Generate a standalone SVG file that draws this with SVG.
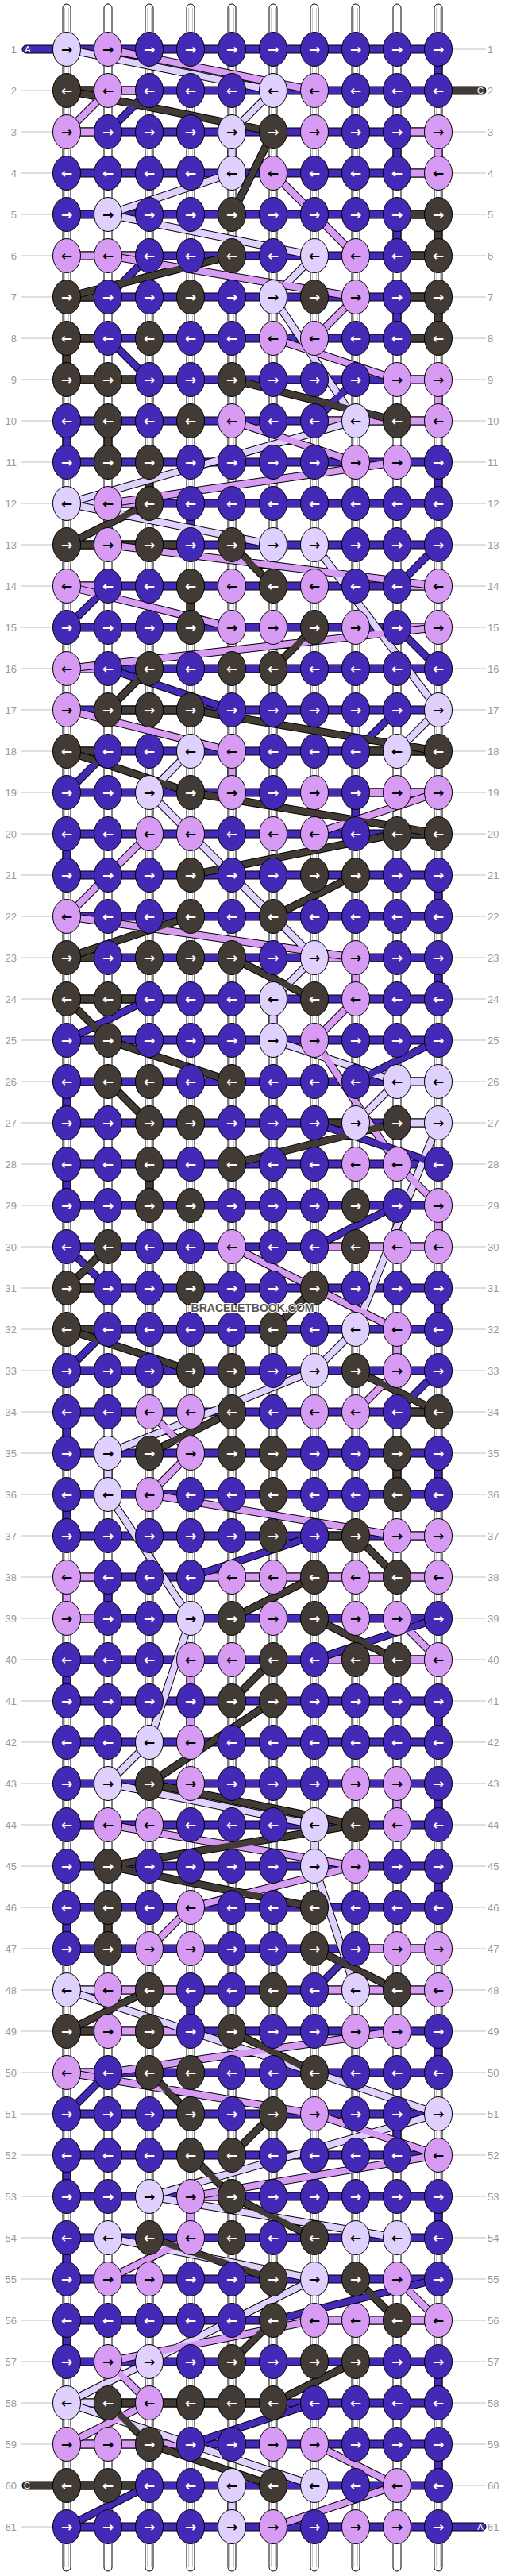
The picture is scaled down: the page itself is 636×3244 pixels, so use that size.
<svg xmlns="http://www.w3.org/2000/svg" width="636" height="3244" viewBox="0 0 636 3244">
<style>
.P{fill:#4329b5}.D{fill:#423a34}.L{fill:#dfd0fd}.K{fill:#d89bf3}
ellipse{stroke:#000;stroke-width:1}
.s{stroke:#000;stroke-width:1}
.a{font-family:"DejaVu Sans",sans-serif;font-weight:bold;font-size:17px;text-anchor:middle}
.w{fill:#fff}.k{fill:#000}
.str{fill:#fff;stroke:#000;stroke-width:1}
.si{fill:none;stroke:#c8c8c8;stroke-width:1}
.o{fill:none;stroke:#000;stroke-width:10}
.dP{fill:none;stroke:#4329b5;stroke-width:8}
.dD{fill:none;stroke:#423a34;stroke-width:8}
.dL{fill:none;stroke:#dfd0fd;stroke-width:8}
.dK{fill:none;stroke:#d89bf3;stroke-width:8}
.lb text{font-family:"Liberation Sans",Arial,sans-serif;font-size:13px;fill:#999}
.le{text-anchor:end}
.pl{font-family:"Liberation Sans",Arial,sans-serif;font-size:11px;fill:#fff;text-anchor:middle}
.wm{font-family:"Liberation Sans",Arial,sans-serif;font-weight:bold;font-size:15px;fill:#555;stroke:#fff;stroke-width:2;paint-order:stroke;text-anchor:middle}
</style>
<defs>
<pattern id="band" patternUnits="userSpaceOnUse" x="0" y="56.5" width="636" height="52"><rect x="-2" y="0.5" width="640" height="10" fill="#4329b5" stroke="#000"/></pattern>
<pattern id="hl" patternUnits="userSpaceOnUse" x="0" y="57" width="636" height="52"><rect x="0" y="4.5" width="636" height="1" fill="#c0c0c0"/></pattern>
<g id="Pr"><ellipse rx="17.5" ry="21.5" class="P"/><text class="a w" y="6">→</text></g>
<g id="Pl"><ellipse rx="17.5" ry="21.5" class="P"/><text class="a w" y="6">←</text></g>
<g id="Dr"><ellipse rx="17.5" ry="21.5" class="D"/><text class="a w" y="6">→</text></g>
<g id="Dl"><ellipse rx="17.5" ry="21.5" class="D"/><text class="a w" y="6">←</text></g>
<g id="Lr"><ellipse rx="17.5" ry="21.5" class="L"/><text class="a k" y="6">→</text></g>
<g id="Ll"><ellipse rx="17.5" ry="21.5" class="L"/><text class="a k" y="6">←</text></g>
<g id="Kr"><ellipse rx="17.5" ry="21.5" class="K"/><text class="a k" y="6">→</text></g>
<g id="Kl"><ellipse rx="17.5" ry="21.5" class="K"/><text class="a k" y="6">←</text></g>
</defs>
<rect width="636" height="3244" fill="#fff"/>
<g id="labels" class="lb">
<rect x="26" y="57" width="586" height="3130" fill="url(#hl)"/>
<text class="le" x="21" y="66.5">1</text><text x="614" y="66.5">1</text>
<text class="le" x="21" y="118.5">2</text><text x="614" y="118.5">2</text>
<text class="le" x="21" y="170.5">3</text><text x="614" y="170.5">3</text>
<text class="le" x="21" y="222.5">4</text><text x="614" y="222.5">4</text>
<text class="le" x="21" y="274.5">5</text><text x="614" y="274.5">5</text>
<text class="le" x="21" y="326.5">6</text><text x="614" y="326.5">6</text>
<text class="le" x="21" y="378.5">7</text><text x="614" y="378.5">7</text>
<text class="le" x="21" y="430.5">8</text><text x="614" y="430.5">8</text>
<text class="le" x="21" y="482.5">9</text><text x="614" y="482.5">9</text>
<text class="le" x="21" y="534.5">10</text><text x="614" y="534.5">10</text>
<text class="le" x="21" y="586.5">11</text><text x="614" y="586.5">11</text>
<text class="le" x="21" y="638.5">12</text><text x="614" y="638.5">12</text>
<text class="le" x="21" y="690.5">13</text><text x="614" y="690.5">13</text>
<text class="le" x="21" y="742.5">14</text><text x="614" y="742.5">14</text>
<text class="le" x="21" y="794.5">15</text><text x="614" y="794.5">15</text>
<text class="le" x="21" y="846.5">16</text><text x="614" y="846.5">16</text>
<text class="le" x="21" y="898.5">17</text><text x="614" y="898.5">17</text>
<text class="le" x="21" y="950.5">18</text><text x="614" y="950.5">18</text>
<text class="le" x="21" y="1002.5">19</text><text x="614" y="1002.5">19</text>
<text class="le" x="21" y="1054.5">20</text><text x="614" y="1054.5">20</text>
<text class="le" x="21" y="1106.5">21</text><text x="614" y="1106.5">21</text>
<text class="le" x="21" y="1158.5">22</text><text x="614" y="1158.5">22</text>
<text class="le" x="21" y="1210.5">23</text><text x="614" y="1210.5">23</text>
<text class="le" x="21" y="1262.5">24</text><text x="614" y="1262.5">24</text>
<text class="le" x="21" y="1314.5">25</text><text x="614" y="1314.5">25</text>
<text class="le" x="21" y="1366.5">26</text><text x="614" y="1366.5">26</text>
<text class="le" x="21" y="1418.5">27</text><text x="614" y="1418.5">27</text>
<text class="le" x="21" y="1470.5">28</text><text x="614" y="1470.5">28</text>
<text class="le" x="21" y="1522.5">29</text><text x="614" y="1522.5">29</text>
<text class="le" x="21" y="1574.5">30</text><text x="614" y="1574.5">30</text>
<text class="le" x="21" y="1626.5">31</text><text x="614" y="1626.5">31</text>
<text class="le" x="21" y="1678.5">32</text><text x="614" y="1678.5">32</text>
<text class="le" x="21" y="1730.5">33</text><text x="614" y="1730.5">33</text>
<text class="le" x="21" y="1782.5">34</text><text x="614" y="1782.5">34</text>
<text class="le" x="21" y="1834.5">35</text><text x="614" y="1834.5">35</text>
<text class="le" x="21" y="1886.5">36</text><text x="614" y="1886.5">36</text>
<text class="le" x="21" y="1938.5">37</text><text x="614" y="1938.5">37</text>
<text class="le" x="21" y="1990.5">38</text><text x="614" y="1990.5">38</text>
<text class="le" x="21" y="2042.5">39</text><text x="614" y="2042.5">39</text>
<text class="le" x="21" y="2094.5">40</text><text x="614" y="2094.5">40</text>
<text class="le" x="21" y="2146.5">41</text><text x="614" y="2146.5">41</text>
<text class="le" x="21" y="2198.5">42</text><text x="614" y="2198.5">42</text>
<text class="le" x="21" y="2250.5">43</text><text x="614" y="2250.5">43</text>
<text class="le" x="21" y="2302.5">44</text><text x="614" y="2302.5">44</text>
<text class="le" x="21" y="2354.5">45</text><text x="614" y="2354.5">45</text>
<text class="le" x="21" y="2406.5">46</text><text x="614" y="2406.5">46</text>
<text class="le" x="21" y="2458.5">47</text><text x="614" y="2458.5">47</text>
<text class="le" x="21" y="2510.5">48</text><text x="614" y="2510.5">48</text>
<text class="le" x="21" y="2562.5">49</text><text x="614" y="2562.5">49</text>
<text class="le" x="21" y="2614.5">50</text><text x="614" y="2614.5">50</text>
<text class="le" x="21" y="2666.5">51</text><text x="614" y="2666.5">51</text>
<text class="le" x="21" y="2718.5">52</text><text x="614" y="2718.5">52</text>
<text class="le" x="21" y="2770.5">53</text><text x="614" y="2770.5">53</text>
<text class="le" x="21" y="2822.5">54</text><text x="614" y="2822.5">54</text>
<text class="le" x="21" y="2874.5">55</text><text x="614" y="2874.5">55</text>
<text class="le" x="21" y="2926.5">56</text><text x="614" y="2926.5">56</text>
<text class="le" x="21" y="2978.5">57</text><text x="614" y="2978.5">57</text>
<text class="le" x="21" y="3030.5">58</text><text x="614" y="3030.5">58</text>
<text class="le" x="21" y="3082.5">59</text><text x="614" y="3082.5">59</text>
<text class="le" x="21" y="3134.5">60</text><text x="614" y="3134.5">60</text>
<text class="le" x="21" y="3186.5">61</text><text x="614" y="3186.5">61</text>
</g>
<g id="connectors">
<g id="strands">
<rect class="str" x="79" y="5" width="10" height="3233" rx="5"/><rect class="str" x="131" y="5" width="10" height="3233" rx="5"/><rect class="str" x="183" y="5" width="10" height="3233" rx="5"/><rect class="str" x="235" y="5" width="10" height="3233" rx="5"/><rect class="str" x="287" y="5" width="10" height="3233" rx="5"/><rect class="str" x="339" y="5" width="10" height="3233" rx="5"/><rect class="str" x="391" y="5" width="10" height="3233" rx="5"/><rect class="str" x="443" y="5" width="10" height="3233" rx="5"/><rect class="str" x="495" y="5" width="10" height="3233" rx="5"/><rect class="str" x="547" y="5" width="10" height="3233" rx="5"/>
<path class="si" d="M81.5 10V3233M86.5 10V3233M133.5 10V3233M138.5 10V3233M185.5 10V3233M190.5 10V3233M237.5 10V3233M242.5 10V3233M289.5 10V3233M294.5 10V3233M341.5 10V3233M346.5 10V3233M393.5 10V3233M398.5 10V3233M445.5 10V3233M450.5 10V3233M497.5 10V3233M502.5 10V3233M549.5 10V3233M554.5 10V3233"/>
</g>
<g id="ends">
<rect class="P s" x="28" y="57" width="62" height="10" rx="5"/><text class="pl" x="35" y="66">A</text>
<rect class="D s" x="546" y="109" width="66" height="10" rx="5"/><text class="pl" x="605" y="118">C</text>
<rect class="D s" x="28" y="3125" width="62" height="10" rx="5"/><text class="pl" x="34" y="3134">C</text>
<rect class="P s" x="546" y="3177" width="66" height="10" rx="5"/><text class="pl" x="605" y="3186">A</text>
</g>
<rect id="rowbands" x="84" y="56" width="468" height="3132" fill="url(#band)"/>
<g id="bandsegs" class="s">
<rect class="D" x="84" y="109" width="52" height="10"/><rect class="K" x="136" y="109" width="52" height="10"/>
<rect class="K" x="84" y="161" width="52" height="10"/><rect class="K" x="500" y="161" width="52" height="10"/>
<rect class="K" x="500" y="213" width="52" height="10"/>
<rect class="D" x="500" y="265" width="52" height="10"/>
<rect class="K" x="84" y="317" width="52" height="10"/><rect class="K" x="136" y="317" width="52" height="10"/><rect class="D" x="500" y="317" width="52" height="10"/>
<rect class="D" x="84" y="369" width="52" height="10"/><rect class="D" x="500" y="369" width="52" height="10"/>
<rect class="D" x="84" y="421" width="52" height="10"/><rect class="D" x="500" y="421" width="52" height="10"/>
<rect class="D" x="84" y="473" width="52" height="10"/><rect class="D" x="136" y="473" width="52" height="10"/><rect class="K" x="500" y="473" width="52" height="10"/>
<rect class="K" x="396" y="525" width="52" height="10"/><rect class="K" x="448" y="525" width="52" height="10"/><rect class="K" x="500" y="525" width="52" height="10"/>
<rect class="L" x="84" y="629" width="52" height="10"/><rect class="K" x="136" y="629" width="52" height="10"/>
<rect class="D" x="84" y="681" width="52" height="10"/><rect class="D" x="136" y="681" width="52" height="10"/><rect class="D" x="188" y="681" width="52" height="10"/>
<rect class="K" x="84" y="733" width="52" height="10"/><rect class="K" x="500" y="733" width="52" height="10"/>
<rect class="K" x="500" y="785" width="52" height="10"/>
<rect class="K" x="84" y="837" width="52" height="10"/>
<rect class="D" x="136" y="889" width="52" height="10"/><rect class="D" x="188" y="889" width="52" height="10"/>
<rect class="D" x="84" y="941" width="52" height="10"/><rect class="D" x="448" y="941" width="52" height="10"/><rect class="D" x="500" y="941" width="52" height="10"/>
<rect class="K" x="448" y="993" width="52" height="10"/><rect class="K" x="500" y="993" width="52" height="10"/>
<rect class="D" x="500" y="1045" width="52" height="10"/>
<rect class="D" x="84" y="1201" width="52" height="10"/><rect class="K" x="396" y="1201" width="52" height="10"/>
<rect class="D" x="84" y="1253" width="52" height="10"/><rect class="D" x="136" y="1253" width="52" height="10"/>
<rect class="L" x="500" y="1357" width="52" height="10"/>
<rect class="D" x="396" y="1409" width="52" height="10"/><rect class="L" x="500" y="1409" width="52" height="10"/>
<rect class="K" x="396" y="1565" width="52" height="10"/><rect class="K" x="448" y="1565" width="52" height="10"/><rect class="K" x="500" y="1565" width="52" height="10"/>
<rect class="D" x="84" y="1617" width="52" height="10"/>
<rect class="D" x="84" y="1669" width="52" height="10"/>
<rect class="D" x="500" y="1773" width="52" height="10"/>
<rect class="D" x="396" y="1929" width="52" height="10"/><rect class="K" x="500" y="1929" width="52" height="10"/>
<rect class="K" x="84" y="1981" width="52" height="10"/><rect class="K" x="240" y="1981" width="52" height="10"/><rect class="K" x="292" y="1981" width="52" height="10"/><rect class="K" x="344" y="1981" width="52" height="10"/><rect class="K" x="396" y="1981" width="52" height="10"/><rect class="K" x="448" y="1981" width="52" height="10"/><rect class="K" x="500" y="1981" width="52" height="10"/>
<rect class="K" x="84" y="2033" width="52" height="10"/>
<rect class="K" x="396" y="2085" width="52" height="10"/><rect class="K" x="448" y="2085" width="52" height="10"/><rect class="K" x="500" y="2085" width="52" height="10"/>
<rect class="K" x="448" y="2449" width="52" height="10"/><rect class="K" x="500" y="2449" width="52" height="10"/>
<rect class="L" x="84" y="2501" width="52" height="10"/><rect class="K" x="136" y="2501" width="52" height="10"/><rect class="K" x="188" y="2501" width="52" height="10"/><rect class="K" x="396" y="2501" width="52" height="10"/><rect class="K" x="448" y="2501" width="52" height="10"/><rect class="K" x="500" y="2501" width="52" height="10"/>
<rect class="D" x="84" y="2553" width="52" height="10"/><rect class="K" x="136" y="2553" width="52" height="10"/><rect class="K" x="188" y="2553" width="52" height="10"/>
<rect class="K" x="84" y="2605" width="52" height="10"/>
<rect class="K" x="240" y="2761" width="52" height="10"/>
<rect class="K" x="344" y="2917" width="52" height="10"/><rect class="K" x="396" y="2917" width="52" height="10"/><rect class="K" x="448" y="2917" width="52" height="10"/><rect class="K" x="500" y="2917" width="52" height="10"/>
<rect class="L" x="84" y="3021" width="52" height="10"/><rect class="D" x="136" y="3021" width="52" height="10"/><rect class="D" x="188" y="3021" width="52" height="10"/><rect class="D" x="240" y="3021" width="52" height="10"/><rect class="D" x="292" y="3021" width="52" height="10"/>
<rect class="K" x="84" y="3073" width="52" height="10"/><rect class="K" x="136" y="3073" width="52" height="10"/><rect class="K" x="188" y="3073" width="52" height="10"/>
<rect class="D" x="84" y="3125" width="52" height="10"/><rect class="D" x="136" y="3125" width="52" height="10"/>
</g>
<g id="vsegs" class="s">
<rect class="P" x="547" y="79" width="10" height="18"/>
<rect class="L" x="287" y="183" width="10" height="18"/><rect class="P" x="495" y="183" width="10" height="18"/><rect class="K" x="547" y="183" width="10" height="18"/>
<rect class="P" x="495" y="287" width="10" height="18"/><rect class="D" x="547" y="287" width="10" height="18"/>
<rect class="P" x="495" y="391" width="10" height="18"/><rect class="D" x="547" y="391" width="10" height="18"/>
<rect class="D" x="79" y="443" width="10" height="18"/>
<rect class="K" x="547" y="495" width="10" height="18"/>
<rect class="P" x="79" y="547" width="10" height="18"/><rect class="D" x="131" y="547" width="10" height="18"/>
<rect class="D" x="183" y="599" width="10" height="18"/><rect class="P" x="547" y="599" width="10" height="18"/>
<rect class="K" x="131" y="651" width="10" height="18"/><rect class="P" x="235" y="651" width="10" height="18"/>
<rect class="D" x="235" y="755" width="10" height="18"/>
<rect class="K" x="287" y="963" width="10" height="18"/>
<rect class="P" x="443" y="1015" width="10" height="18"/>
<rect class="P" x="79" y="1067" width="10" height="18"/>
<rect class="P" x="547" y="1119" width="10" height="18"/>
<rect class="K" x="443" y="1223" width="10" height="18"/><rect class="P" x="547" y="1223" width="10" height="18"/>
<rect class="L" x="339" y="1275" width="10" height="18"/>
<rect class="P" x="79" y="1379" width="10" height="18"/>
<rect class="P" x="79" y="1483" width="10" height="18"/><rect class="D" x="183" y="1483" width="10" height="18"/>
<rect class="K" x="547" y="1535" width="10" height="18"/>
<rect class="P" x="547" y="1639" width="10" height="18"/>
<rect class="K" x="495" y="1691" width="10" height="18"/>
<rect class="P" x="79" y="1795" width="10" height="18"/>
<rect class="L" x="131" y="1847" width="10" height="18"/><rect class="D" x="495" y="1847" width="10" height="18"/><rect class="P" x="547" y="1847" width="10" height="18"/>
<rect class="P" x="79" y="1899" width="10" height="18"/>
<rect class="K" x="79" y="2003" width="10" height="18"/><rect class="P" x="131" y="2003" width="10" height="18"/>
<rect class="P" x="79" y="2107" width="10" height="18"/><rect class="K" x="235" y="2107" width="10" height="18"/>
<rect class="K" x="235" y="2159" width="10" height="18"/><rect class="P" x="547" y="2159" width="10" height="18"/>
<rect class="K" x="495" y="2263" width="10" height="18"/><rect class="P" x="547" y="2263" width="10" height="18"/>
<rect class="L" x="391" y="2315" width="10" height="18"/>
<rect class="P" x="547" y="2367" width="10" height="18"/>
<rect class="P" x="79" y="2419" width="10" height="18"/><rect class="D" x="131" y="2419" width="10" height="18"/>
<rect class="K" x="131" y="2523" width="10" height="18"/><rect class="P" x="235" y="2523" width="10" height="18"/>
<rect class="P" x="547" y="2575" width="10" height="18"/>
<rect class="P" x="495" y="2679" width="10" height="18"/>
<rect class="P" x="79" y="2731" width="10" height="18"/>
<rect class="K" x="235" y="2783" width="10" height="18"/><rect class="P" x="547" y="2783" width="10" height="18"/>
<rect class="P" x="79" y="2835" width="10" height="18"/>
<rect class="P" x="79" y="2939" width="10" height="18"/>
<rect class="P" x="547" y="2991" width="10" height="18"/>
<rect class="P" x="547" y="3095" width="10" height="18"/>
<rect class="L" x="287" y="3147" width="10" height="18"/>
</g>
<g id="diagonals">
<path class="o" d="M84 62L344 114M344 114L292 166M292 218L136 270M136 270L396 322M396 322L344 374M344 374L448 530M448 530L84 634M84 634L344 686M396 686L552 894M552 894L500 946M240 946L188 998M188 998L396 1206M396 1206L344 1258M344 1310L500 1362M500 1362L448 1414M552 1414L448 1674M448 1674L396 1726M396 1726L136 1830M136 1882L240 2038M240 2038L188 2194M188 2194L136 2246M136 2246L396 2298M396 2350L448 2506M84 2506L552 2662M552 2662L188 2766M188 2766L500 2818M136 2818L396 2870M396 2870L292 2922M292 2922L188 2974M188 2974L84 3026M84 3026L396 3130
M136 62L396 114M136 114L84 166M344 218L448 322M136 322L448 374M448 374L396 426M344 426L500 478M292 530L448 582M500 582L136 634M136 686L552 738M84 738L292 790M552 790L84 842M84 894L292 946M552 998L396 1050M188 1050L84 1154M84 1154L448 1206M448 1258L396 1310M396 1310L500 1466M500 1466L552 1518M292 1570L500 1674M500 1726L448 1778M188 1778L240 1830M240 1830L188 1882M188 1882L500 1934M500 2038L552 2090M136 2298L448 2350M448 2350L240 2402M240 2402L188 2454M500 2558L136 2610M84 2610L396 2662M396 2662L552 2714M552 2714L240 2766M240 2818L136 2870M500 2870L552 2922M396 2922L136 2974M136 2974L188 3026M188 3026L84 3078M396 3078L500 3130M500 3130L344 3182
M188 114L136 166M188 322L136 374M136 426L188 478M448 478L396 530M552 686L500 738M136 738L84 790M500 790L552 842M136 842L292 894M500 894L448 946M136 946L84 998M188 1258L84 1310M552 1310L448 1362M396 1414L552 1466M500 1518L396 1570M84 1570L136 1622M136 1674L84 1726M552 1726L500 1778M396 1934L240 1986M552 2038L396 2090M448 2454L396 2506M136 2610L84 2662M552 2870L344 2922M396 3026L240 3078M188 3130L84 3182
M84 114L344 166M344 166L292 270M292 322L84 374M292 478L500 530M188 634L84 686M292 686L344 738M396 790L344 842M188 842L136 894M240 894L552 946M84 946L240 998M240 998L552 1050M500 1050L240 1102M448 1102L344 1154M240 1154L84 1206M292 1206L396 1258M84 1258L136 1310M136 1310L292 1362M136 1362L188 1414M500 1414L292 1466M136 1570L84 1622M396 1622L344 1674M84 1674L240 1726M448 1726L552 1778M292 1778L188 1830M448 1934L500 1986M396 1986L292 2038M396 2038L500 2090M344 2090L292 2142M344 2142L188 2246M188 2246L448 2298M448 2298L136 2350M136 2350L396 2402M396 2454L500 2506M188 2506L84 2558M292 2558L396 2610M188 2610L240 2662M344 2662L292 2714M240 2714L292 2766M292 2766L396 2818M188 2818L344 2870M448 2870L500 2922M344 2922L292 2974M448 2974L344 3026M136 3026L188 3078M188 3078L344 3130"/>
<path class="dL" d="M84 62L344 114M344 114L292 166M292 218L136 270M136 270L396 322M396 322L344 374M344 374L448 530M448 530L84 634M84 634L344 686M396 686L552 894M552 894L500 946M240 946L188 998M188 998L396 1206M396 1206L344 1258M344 1310L500 1362M500 1362L448 1414M552 1414L448 1674M448 1674L396 1726M396 1726L136 1830M136 1882L240 2038M240 2038L188 2194M188 2194L136 2246M136 2246L396 2298M396 2350L448 2506M84 2506L552 2662M552 2662L188 2766M188 2766L500 2818M136 2818L396 2870M396 2870L292 2922M292 2922L188 2974M188 2974L84 3026M84 3026L396 3130"/>
<path class="dK" d="M136 62L396 114M136 114L84 166M344 218L448 322M136 322L448 374M448 374L396 426M344 426L500 478M292 530L448 582M500 582L136 634M136 686L552 738M84 738L292 790M552 790L84 842M84 894L292 946M552 998L396 1050M188 1050L84 1154M84 1154L448 1206M448 1258L396 1310M396 1310L500 1466M500 1466L552 1518M292 1570L500 1674M500 1726L448 1778M188 1778L240 1830M240 1830L188 1882M188 1882L500 1934M500 2038L552 2090M136 2298L448 2350M448 2350L240 2402M240 2402L188 2454M500 2558L136 2610M84 2610L396 2662M396 2662L552 2714M552 2714L240 2766M240 2818L136 2870M500 2870L552 2922M396 2922L136 2974M136 2974L188 3026M188 3026L84 3078M396 3078L500 3130M500 3130L344 3182"/>
<path class="dP" d="M188 114L136 166M188 322L136 374M136 426L188 478M448 478L396 530M552 686L500 738M136 738L84 790M500 790L552 842M136 842L292 894M500 894L448 946M136 946L84 998M188 1258L84 1310M552 1310L448 1362M396 1414L552 1466M500 1518L396 1570M84 1570L136 1622M136 1674L84 1726M552 1726L500 1778M396 1934L240 1986M552 2038L396 2090M448 2454L396 2506M136 2610L84 2662M552 2870L344 2922M396 3026L240 3078M188 3130L84 3182"/>
<path class="dD" d="M84 114L344 166M344 166L292 270M292 322L84 374M292 478L500 530M188 634L84 686M292 686L344 738M396 790L344 842M188 842L136 894M240 894L552 946M84 946L240 998M240 998L552 1050M500 1050L240 1102M448 1102L344 1154M240 1154L84 1206M292 1206L396 1258M84 1258L136 1310M136 1310L292 1362M136 1362L188 1414M500 1414L292 1466M136 1570L84 1622M396 1622L344 1674M84 1674L240 1726M448 1726L552 1778M292 1778L188 1830M448 1934L500 1986M396 1986L292 2038M396 2038L500 2090M344 2090L292 2142M344 2142L188 2246M188 2246L448 2298M448 2298L136 2350M136 2350L396 2402M396 2454L500 2506M188 2506L84 2558M292 2558L396 2610M188 2610L240 2662M344 2662L292 2714M240 2714L292 2766M292 2766L396 2818M188 2818L344 2870M448 2870L500 2922M344 2922L292 2974M448 2974L344 3026M136 3026L188 3078M188 3078L344 3130"/>
</g>
</g>
<g id="nodes">
<g id="row1" transform="translate(0,62)"><use id="n1_1" href="#Lr" x="84"/><use id="n1_2" href="#Kr" x="136"/><use id="n1_3" href="#Pr" x="188"/><use id="n1_4" href="#Pr" x="240"/><use id="n1_5" href="#Pr" x="292"/><use id="n1_6" href="#Pr" x="344"/><use id="n1_7" href="#Pr" x="396"/><use id="n1_8" href="#Pr" x="448"/><use id="n1_9" href="#Pr" x="500"/><use id="n1_10" href="#Pr" x="552"/></g>
<g id="row2" transform="translate(0,114)"><use id="n2_1" href="#Dl" x="84"/><use id="n2_2" href="#Kl" x="136"/><use id="n2_3" href="#Pl" x="188"/><use id="n2_4" href="#Pl" x="240"/><use id="n2_5" href="#Pl" x="292"/><use id="n2_6" href="#Ll" x="344"/><use id="n2_7" href="#Kl" x="396"/><use id="n2_8" href="#Pl" x="448"/><use id="n2_9" href="#Pl" x="500"/><use id="n2_10" href="#Pl" x="552"/></g>
<g id="row3" transform="translate(0,166)"><use id="n3_1" href="#Kr" x="84"/><use id="n3_2" href="#Pr" x="136"/><use id="n3_3" href="#Pr" x="188"/><use id="n3_4" href="#Pr" x="240"/><use id="n3_5" href="#Lr" x="292"/><use id="n3_6" href="#Dr" x="344"/><use id="n3_7" href="#Kr" x="396"/><use id="n3_8" href="#Pr" x="448"/><use id="n3_9" href="#Pr" x="500"/><use id="n3_10" href="#Kr" x="552"/></g>
<g id="row4" transform="translate(0,218)"><use id="n4_1" href="#Pl" x="84"/><use id="n4_2" href="#Pl" x="136"/><use id="n4_3" href="#Pl" x="188"/><use id="n4_4" href="#Pl" x="240"/><use id="n4_5" href="#Ll" x="292"/><use id="n4_6" href="#Kl" x="344"/><use id="n4_7" href="#Pl" x="396"/><use id="n4_8" href="#Pl" x="448"/><use id="n4_9" href="#Pl" x="500"/><use id="n4_10" href="#Kl" x="552"/></g>
<g id="row5" transform="translate(0,270)"><use id="n5_1" href="#Pr" x="84"/><use id="n5_2" href="#Lr" x="136"/><use id="n5_3" href="#Pr" x="188"/><use id="n5_4" href="#Pr" x="240"/><use id="n5_5" href="#Dr" x="292"/><use id="n5_6" href="#Pr" x="344"/><use id="n5_7" href="#Pr" x="396"/><use id="n5_8" href="#Pr" x="448"/><use id="n5_9" href="#Pr" x="500"/><use id="n5_10" href="#Dr" x="552"/></g>
<g id="row6" transform="translate(0,322)"><use id="n6_1" href="#Kl" x="84"/><use id="n6_2" href="#Kl" x="136"/><use id="n6_3" href="#Pl" x="188"/><use id="n6_4" href="#Pl" x="240"/><use id="n6_5" href="#Dl" x="292"/><use id="n6_6" href="#Pl" x="344"/><use id="n6_7" href="#Ll" x="396"/><use id="n6_8" href="#Kl" x="448"/><use id="n6_9" href="#Pl" x="500"/><use id="n6_10" href="#Dl" x="552"/></g>
<g id="row7" transform="translate(0,374)"><use id="n7_1" href="#Dr" x="84"/><use id="n7_2" href="#Pr" x="136"/><use id="n7_3" href="#Pr" x="188"/><use id="n7_4" href="#Dr" x="240"/><use id="n7_5" href="#Pr" x="292"/><use id="n7_6" href="#Lr" x="344"/><use id="n7_7" href="#Dr" x="396"/><use id="n7_8" href="#Kr" x="448"/><use id="n7_9" href="#Pr" x="500"/><use id="n7_10" href="#Dr" x="552"/></g>
<g id="row8" transform="translate(0,426)"><use id="n8_1" href="#Dl" x="84"/><use id="n8_2" href="#Pl" x="136"/><use id="n8_3" href="#Dl" x="188"/><use id="n8_4" href="#Pl" x="240"/><use id="n8_5" href="#Pl" x="292"/><use id="n8_6" href="#Kl" x="344"/><use id="n8_7" href="#Kl" x="396"/><use id="n8_8" href="#Pl" x="448"/><use id="n8_9" href="#Pl" x="500"/><use id="n8_10" href="#Dl" x="552"/></g>
<g id="row9" transform="translate(0,478)"><use id="n9_1" href="#Dr" x="84"/><use id="n9_2" href="#Dr" x="136"/><use id="n9_3" href="#Pr" x="188"/><use id="n9_4" href="#Pr" x="240"/><use id="n9_5" href="#Dr" x="292"/><use id="n9_6" href="#Pr" x="344"/><use id="n9_7" href="#Pr" x="396"/><use id="n9_8" href="#Pr" x="448"/><use id="n9_9" href="#Kr" x="500"/><use id="n9_10" href="#Kr" x="552"/></g>
<g id="row10" transform="translate(0,530)"><use id="n10_1" href="#Pl" x="84"/><use id="n10_2" href="#Dl" x="136"/><use id="n10_3" href="#Pl" x="188"/><use id="n10_4" href="#Dl" x="240"/><use id="n10_5" href="#Kl" x="292"/><use id="n10_6" href="#Pl" x="344"/><use id="n10_7" href="#Pl" x="396"/><use id="n10_8" href="#Ll" x="448"/><use id="n10_9" href="#Dl" x="500"/><use id="n10_10" href="#Kl" x="552"/></g>
<g id="row11" transform="translate(0,582)"><use id="n11_1" href="#Pr" x="84"/><use id="n11_2" href="#Dr" x="136"/><use id="n11_3" href="#Dr" x="188"/><use id="n11_4" href="#Pr" x="240"/><use id="n11_5" href="#Pr" x="292"/><use id="n11_6" href="#Pr" x="344"/><use id="n11_7" href="#Pr" x="396"/><use id="n11_8" href="#Kr" x="448"/><use id="n11_9" href="#Kr" x="500"/><use id="n11_10" href="#Pr" x="552"/></g>
<g id="row12" transform="translate(0,634)"><use id="n12_1" href="#Ll" x="84"/><use id="n12_2" href="#Kl" x="136"/><use id="n12_3" href="#Dl" x="188"/><use id="n12_4" href="#Pl" x="240"/><use id="n12_5" href="#Pl" x="292"/><use id="n12_6" href="#Pl" x="344"/><use id="n12_7" href="#Pl" x="396"/><use id="n12_8" href="#Pl" x="448"/><use id="n12_9" href="#Pl" x="500"/><use id="n12_10" href="#Pl" x="552"/></g>
<g id="row13" transform="translate(0,686)"><use id="n13_1" href="#Dr" x="84"/><use id="n13_2" href="#Kr" x="136"/><use id="n13_3" href="#Dr" x="188"/><use id="n13_4" href="#Pr" x="240"/><use id="n13_5" href="#Dr" x="292"/><use id="n13_6" href="#Lr" x="344"/><use id="n13_7" href="#Lr" x="396"/><use id="n13_8" href="#Pr" x="448"/><use id="n13_9" href="#Pr" x="500"/><use id="n13_10" href="#Pr" x="552"/></g>
<g id="row14" transform="translate(0,738)"><use id="n14_1" href="#Kl" x="84"/><use id="n14_2" href="#Pl" x="136"/><use id="n14_3" href="#Pl" x="188"/><use id="n14_4" href="#Dl" x="240"/><use id="n14_5" href="#Kl" x="292"/><use id="n14_6" href="#Dl" x="344"/><use id="n14_7" href="#Kl" x="396"/><use id="n14_8" href="#Pl" x="448"/><use id="n14_9" href="#Pl" x="500"/><use id="n14_10" href="#Kl" x="552"/></g>
<g id="row15" transform="translate(0,790)"><use id="n15_1" href="#Pr" x="84"/><use id="n15_2" href="#Pr" x="136"/><use id="n15_3" href="#Pr" x="188"/><use id="n15_4" href="#Dr" x="240"/><use id="n15_5" href="#Kr" x="292"/><use id="n15_6" href="#Kr" x="344"/><use id="n15_7" href="#Dr" x="396"/><use id="n15_8" href="#Kr" x="448"/><use id="n15_9" href="#Pr" x="500"/><use id="n15_10" href="#Kr" x="552"/></g>
<g id="row16" transform="translate(0,842)"><use id="n16_1" href="#Kl" x="84"/><use id="n16_2" href="#Pl" x="136"/><use id="n16_3" href="#Dl" x="188"/><use id="n16_4" href="#Pl" x="240"/><use id="n16_5" href="#Dl" x="292"/><use id="n16_6" href="#Dl" x="344"/><use id="n16_7" href="#Pl" x="396"/><use id="n16_8" href="#Pl" x="448"/><use id="n16_9" href="#Pl" x="500"/><use id="n16_10" href="#Pl" x="552"/></g>
<g id="row17" transform="translate(0,894)"><use id="n17_1" href="#Kr" x="84"/><use id="n17_2" href="#Dr" x="136"/><use id="n17_3" href="#Dr" x="188"/><use id="n17_4" href="#Dr" x="240"/><use id="n17_5" href="#Pr" x="292"/><use id="n17_6" href="#Pr" x="344"/><use id="n17_7" href="#Pr" x="396"/><use id="n17_8" href="#Pr" x="448"/><use id="n17_9" href="#Pr" x="500"/><use id="n17_10" href="#Lr" x="552"/></g>
<g id="row18" transform="translate(0,946)"><use id="n18_1" href="#Dl" x="84"/><use id="n18_2" href="#Pl" x="136"/><use id="n18_3" href="#Pl" x="188"/><use id="n18_4" href="#Ll" x="240"/><use id="n18_5" href="#Kl" x="292"/><use id="n18_6" href="#Pl" x="344"/><use id="n18_7" href="#Pl" x="396"/><use id="n18_8" href="#Pl" x="448"/><use id="n18_9" href="#Ll" x="500"/><use id="n18_10" href="#Dl" x="552"/></g>
<g id="row19" transform="translate(0,998)"><use id="n19_1" href="#Pr" x="84"/><use id="n19_2" href="#Pr" x="136"/><use id="n19_3" href="#Lr" x="188"/><use id="n19_4" href="#Dr" x="240"/><use id="n19_5" href="#Kr" x="292"/><use id="n19_6" href="#Pr" x="344"/><use id="n19_7" href="#Kr" x="396"/><use id="n19_8" href="#Pr" x="448"/><use id="n19_9" href="#Kr" x="500"/><use id="n19_10" href="#Kr" x="552"/></g>
<g id="row20" transform="translate(0,1050)"><use id="n20_1" href="#Pl" x="84"/><use id="n20_2" href="#Pl" x="136"/><use id="n20_3" href="#Kl" x="188"/><use id="n20_4" href="#Kl" x="240"/><use id="n20_5" href="#Pl" x="292"/><use id="n20_6" href="#Kl" x="344"/><use id="n20_7" href="#Kl" x="396"/><use id="n20_8" href="#Pl" x="448"/><use id="n20_9" href="#Dl" x="500"/><use id="n20_10" href="#Dl" x="552"/></g>
<g id="row21" transform="translate(0,1102)"><use id="n21_1" href="#Pr" x="84"/><use id="n21_2" href="#Pr" x="136"/><use id="n21_3" href="#Pr" x="188"/><use id="n21_4" href="#Dr" x="240"/><use id="n21_5" href="#Pr" x="292"/><use id="n21_6" href="#Pr" x="344"/><use id="n21_7" href="#Dr" x="396"/><use id="n21_8" href="#Dr" x="448"/><use id="n21_9" href="#Pr" x="500"/><use id="n21_10" href="#Pr" x="552"/></g>
<g id="row22" transform="translate(0,1154)"><use id="n22_1" href="#Kl" x="84"/><use id="n22_2" href="#Pl" x="136"/><use id="n22_3" href="#Pl" x="188"/><use id="n22_4" href="#Dl" x="240"/><use id="n22_5" href="#Pl" x="292"/><use id="n22_6" href="#Dl" x="344"/><use id="n22_7" href="#Pl" x="396"/><use id="n22_8" href="#Pl" x="448"/><use id="n22_9" href="#Pl" x="500"/><use id="n22_10" href="#Pl" x="552"/></g>
<g id="row23" transform="translate(0,1206)"><use id="n23_1" href="#Dr" x="84"/><use id="n23_2" href="#Pr" x="136"/><use id="n23_3" href="#Dr" x="188"/><use id="n23_4" href="#Dr" x="240"/><use id="n23_5" href="#Dr" x="292"/><use id="n23_6" href="#Pr" x="344"/><use id="n23_7" href="#Lr" x="396"/><use id="n23_8" href="#Kr" x="448"/><use id="n23_9" href="#Pr" x="500"/><use id="n23_10" href="#Pr" x="552"/></g>
<g id="row24" transform="translate(0,1258)"><use id="n24_1" href="#Dl" x="84"/><use id="n24_2" href="#Dl" x="136"/><use id="n24_3" href="#Pl" x="188"/><use id="n24_4" href="#Pl" x="240"/><use id="n24_5" href="#Pl" x="292"/><use id="n24_6" href="#Ll" x="344"/><use id="n24_7" href="#Dl" x="396"/><use id="n24_8" href="#Kl" x="448"/><use id="n24_9" href="#Pl" x="500"/><use id="n24_10" href="#Pl" x="552"/></g>
<g id="row25" transform="translate(0,1310)"><use id="n25_1" href="#Pr" x="84"/><use id="n25_2" href="#Dr" x="136"/><use id="n25_3" href="#Pr" x="188"/><use id="n25_4" href="#Pr" x="240"/><use id="n25_5" href="#Pr" x="292"/><use id="n25_6" href="#Lr" x="344"/><use id="n25_7" href="#Kr" x="396"/><use id="n25_8" href="#Pr" x="448"/><use id="n25_9" href="#Pr" x="500"/><use id="n25_10" href="#Pr" x="552"/></g>
<g id="row26" transform="translate(0,1362)"><use id="n26_1" href="#Pl" x="84"/><use id="n26_2" href="#Dl" x="136"/><use id="n26_3" href="#Dl" x="188"/><use id="n26_4" href="#Pl" x="240"/><use id="n26_5" href="#Dl" x="292"/><use id="n26_6" href="#Pl" x="344"/><use id="n26_7" href="#Pl" x="396"/><use id="n26_8" href="#Pl" x="448"/><use id="n26_9" href="#Ll" x="500"/><use id="n26_10" href="#Ll" x="552"/></g>
<g id="row27" transform="translate(0,1414)"><use id="n27_1" href="#Pr" x="84"/><use id="n27_2" href="#Pr" x="136"/><use id="n27_3" href="#Dr" x="188"/><use id="n27_4" href="#Dr" x="240"/><use id="n27_5" href="#Pr" x="292"/><use id="n27_6" href="#Pr" x="344"/><use id="n27_7" href="#Pr" x="396"/><use id="n27_8" href="#Lr" x="448"/><use id="n27_9" href="#Dr" x="500"/><use id="n27_10" href="#Lr" x="552"/></g>
<g id="row28" transform="translate(0,1466)"><use id="n28_1" href="#Pl" x="84"/><use id="n28_2" href="#Pl" x="136"/><use id="n28_3" href="#Dl" x="188"/><use id="n28_4" href="#Pl" x="240"/><use id="n28_5" href="#Dl" x="292"/><use id="n28_6" href="#Pl" x="344"/><use id="n28_7" href="#Pl" x="396"/><use id="n28_8" href="#Kl" x="448"/><use id="n28_9" href="#Kl" x="500"/><use id="n28_10" href="#Pl" x="552"/></g>
<g id="row29" transform="translate(0,1518)"><use id="n29_1" href="#Pr" x="84"/><use id="n29_2" href="#Pr" x="136"/><use id="n29_3" href="#Dr" x="188"/><use id="n29_4" href="#Dr" x="240"/><use id="n29_5" href="#Pr" x="292"/><use id="n29_6" href="#Pr" x="344"/><use id="n29_7" href="#Pr" x="396"/><use id="n29_8" href="#Dr" x="448"/><use id="n29_9" href="#Pr" x="500"/><use id="n29_10" href="#Kr" x="552"/></g>
<g id="row30" transform="translate(0,1570)"><use id="n30_1" href="#Pl" x="84"/><use id="n30_2" href="#Dl" x="136"/><use id="n30_3" href="#Pl" x="188"/><use id="n30_4" href="#Pl" x="240"/><use id="n30_5" href="#Kl" x="292"/><use id="n30_6" href="#Pl" x="344"/><use id="n30_7" href="#Pl" x="396"/><use id="n30_8" href="#Dl" x="448"/><use id="n30_9" href="#Kl" x="500"/><use id="n30_10" href="#Kl" x="552"/></g>
<g id="row31" transform="translate(0,1622)"><use id="n31_1" href="#Dr" x="84"/><use id="n31_2" href="#Pr" x="136"/><use id="n31_3" href="#Pr" x="188"/><use id="n31_4" href="#Dr" x="240"/><use id="n31_5" href="#Pr" x="292"/><use id="n31_6" href="#Pr" x="344"/><use id="n31_7" href="#Dr" x="396"/><use id="n31_8" href="#Pr" x="448"/><use id="n31_9" href="#Pr" x="500"/><use id="n31_10" href="#Pr" x="552"/></g>
<g id="row32" transform="translate(0,1674)"><use id="n32_1" href="#Dl" x="84"/><use id="n32_2" href="#Pl" x="136"/><use id="n32_3" href="#Pl" x="188"/><use id="n32_4" href="#Pl" x="240"/><use id="n32_5" href="#Pl" x="292"/><use id="n32_6" href="#Dl" x="344"/><use id="n32_7" href="#Pl" x="396"/><use id="n32_8" href="#Ll" x="448"/><use id="n32_9" href="#Kl" x="500"/><use id="n32_10" href="#Pl" x="552"/></g>
<g id="row33" transform="translate(0,1726)"><use id="n33_1" href="#Pr" x="84"/><use id="n33_2" href="#Pr" x="136"/><use id="n33_3" href="#Pr" x="188"/><use id="n33_4" href="#Dr" x="240"/><use id="n33_5" href="#Dr" x="292"/><use id="n33_6" href="#Pr" x="344"/><use id="n33_7" href="#Lr" x="396"/><use id="n33_8" href="#Dr" x="448"/><use id="n33_9" href="#Kr" x="500"/><use id="n33_10" href="#Pr" x="552"/></g>
<g id="row34" transform="translate(0,1778)"><use id="n34_1" href="#Pl" x="84"/><use id="n34_2" href="#Pl" x="136"/><use id="n34_3" href="#Kl" x="188"/><use id="n34_4" href="#Kl" x="240"/><use id="n34_5" href="#Dl" x="292"/><use id="n34_6" href="#Pl" x="344"/><use id="n34_7" href="#Kl" x="396"/><use id="n34_8" href="#Kl" x="448"/><use id="n34_9" href="#Pl" x="500"/><use id="n34_10" href="#Dl" x="552"/></g>
<g id="row35" transform="translate(0,1830)"><use id="n35_1" href="#Pr" x="84"/><use id="n35_2" href="#Lr" x="136"/><use id="n35_3" href="#Dr" x="188"/><use id="n35_4" href="#Kr" x="240"/><use id="n35_5" href="#Dr" x="292"/><use id="n35_6" href="#Dr" x="344"/><use id="n35_7" href="#Pr" x="396"/><use id="n35_8" href="#Pr" x="448"/><use id="n35_9" href="#Dr" x="500"/><use id="n35_10" href="#Pr" x="552"/></g>
<g id="row36" transform="translate(0,1882)"><use id="n36_1" href="#Pl" x="84"/><use id="n36_2" href="#Ll" x="136"/><use id="n36_3" href="#Kl" x="188"/><use id="n36_4" href="#Pl" x="240"/><use id="n36_5" href="#Pl" x="292"/><use id="n36_6" href="#Dl" x="344"/><use id="n36_7" href="#Pl" x="396"/><use id="n36_8" href="#Pl" x="448"/><use id="n36_9" href="#Dl" x="500"/><use id="n36_10" href="#Pl" x="552"/></g>
<g id="row37" transform="translate(0,1934)"><use id="n37_1" href="#Pr" x="84"/><use id="n37_2" href="#Pr" x="136"/><use id="n37_3" href="#Pr" x="188"/><use id="n37_4" href="#Pr" x="240"/><use id="n37_5" href="#Pr" x="292"/><use id="n37_6" href="#Dr" x="344"/><use id="n37_7" href="#Pr" x="396"/><use id="n37_8" href="#Dr" x="448"/><use id="n37_9" href="#Kr" x="500"/><use id="n37_10" href="#Kr" x="552"/></g>
<g id="row38" transform="translate(0,1986)"><use id="n38_1" href="#Kl" x="84"/><use id="n38_2" href="#Pl" x="136"/><use id="n38_3" href="#Pl" x="188"/><use id="n38_4" href="#Pl" x="240"/><use id="n38_5" href="#Kl" x="292"/><use id="n38_6" href="#Kl" x="344"/><use id="n38_7" href="#Dl" x="396"/><use id="n38_8" href="#Kl" x="448"/><use id="n38_9" href="#Dl" x="500"/><use id="n38_10" href="#Kl" x="552"/></g>
<g id="row39" transform="translate(0,2038)"><use id="n39_1" href="#Kr" x="84"/><use id="n39_2" href="#Pr" x="136"/><use id="n39_3" href="#Pr" x="188"/><use id="n39_4" href="#Lr" x="240"/><use id="n39_5" href="#Dr" x="292"/><use id="n39_6" href="#Kr" x="344"/><use id="n39_7" href="#Dr" x="396"/><use id="n39_8" href="#Kr" x="448"/><use id="n39_9" href="#Kr" x="500"/><use id="n39_10" href="#Pr" x="552"/></g>
<g id="row40" transform="translate(0,2090)"><use id="n40_1" href="#Pl" x="84"/><use id="n40_2" href="#Pl" x="136"/><use id="n40_3" href="#Pl" x="188"/><use id="n40_4" href="#Kl" x="240"/><use id="n40_5" href="#Kl" x="292"/><use id="n40_6" href="#Dl" x="344"/><use id="n40_7" href="#Pl" x="396"/><use id="n40_8" href="#Dl" x="448"/><use id="n40_9" href="#Dl" x="500"/><use id="n40_10" href="#Kl" x="552"/></g>
<g id="row41" transform="translate(0,2142)"><use id="n41_1" href="#Pr" x="84"/><use id="n41_2" href="#Pr" x="136"/><use id="n41_3" href="#Pr" x="188"/><use id="n41_4" href="#Pr" x="240"/><use id="n41_5" href="#Dr" x="292"/><use id="n41_6" href="#Dr" x="344"/><use id="n41_7" href="#Pr" x="396"/><use id="n41_8" href="#Pr" x="448"/><use id="n41_9" href="#Pr" x="500"/><use id="n41_10" href="#Pr" x="552"/></g>
<g id="row42" transform="translate(0,2194)"><use id="n42_1" href="#Pl" x="84"/><use id="n42_2" href="#Pl" x="136"/><use id="n42_3" href="#Ll" x="188"/><use id="n42_4" href="#Kl" x="240"/><use id="n42_5" href="#Pl" x="292"/><use id="n42_6" href="#Pl" x="344"/><use id="n42_7" href="#Pl" x="396"/><use id="n42_8" href="#Pl" x="448"/><use id="n42_9" href="#Pl" x="500"/><use id="n42_10" href="#Pl" x="552"/></g>
<g id="row43" transform="translate(0,2246)"><use id="n43_1" href="#Pr" x="84"/><use id="n43_2" href="#Lr" x="136"/><use id="n43_3" href="#Dr" x="188"/><use id="n43_4" href="#Kr" x="240"/><use id="n43_5" href="#Pr" x="292"/><use id="n43_6" href="#Pr" x="344"/><use id="n43_7" href="#Pr" x="396"/><use id="n43_8" href="#Kr" x="448"/><use id="n43_9" href="#Kr" x="500"/><use id="n43_10" href="#Pr" x="552"/></g>
<g id="row44" transform="translate(0,2298)"><use id="n44_1" href="#Pl" x="84"/><use id="n44_2" href="#Kl" x="136"/><use id="n44_3" href="#Kl" x="188"/><use id="n44_4" href="#Pl" x="240"/><use id="n44_5" href="#Pl" x="292"/><use id="n44_6" href="#Pl" x="344"/><use id="n44_7" href="#Ll" x="396"/><use id="n44_8" href="#Dl" x="448"/><use id="n44_9" href="#Kl" x="500"/><use id="n44_10" href="#Pl" x="552"/></g>
<g id="row45" transform="translate(0,2350)"><use id="n45_1" href="#Pr" x="84"/><use id="n45_2" href="#Dr" x="136"/><use id="n45_3" href="#Pr" x="188"/><use id="n45_4" href="#Pr" x="240"/><use id="n45_5" href="#Pr" x="292"/><use id="n45_6" href="#Pr" x="344"/><use id="n45_7" href="#Lr" x="396"/><use id="n45_8" href="#Kr" x="448"/><use id="n45_9" href="#Pr" x="500"/><use id="n45_10" href="#Pr" x="552"/></g>
<g id="row46" transform="translate(0,2402)"><use id="n46_1" href="#Pl" x="84"/><use id="n46_2" href="#Dl" x="136"/><use id="n46_3" href="#Pl" x="188"/><use id="n46_4" href="#Kl" x="240"/><use id="n46_5" href="#Pl" x="292"/><use id="n46_6" href="#Pl" x="344"/><use id="n46_7" href="#Dl" x="396"/><use id="n46_8" href="#Pl" x="448"/><use id="n46_9" href="#Pl" x="500"/><use id="n46_10" href="#Pl" x="552"/></g>
<g id="row47" transform="translate(0,2454)"><use id="n47_1" href="#Pr" x="84"/><use id="n47_2" href="#Dr" x="136"/><use id="n47_3" href="#Kr" x="188"/><use id="n47_4" href="#Kr" x="240"/><use id="n47_5" href="#Pr" x="292"/><use id="n47_6" href="#Pr" x="344"/><use id="n47_7" href="#Dr" x="396"/><use id="n47_8" href="#Pr" x="448"/><use id="n47_9" href="#Kr" x="500"/><use id="n47_10" href="#Kr" x="552"/></g>
<g id="row48" transform="translate(0,2506)"><use id="n48_1" href="#Ll" x="84"/><use id="n48_2" href="#Kl" x="136"/><use id="n48_3" href="#Dl" x="188"/><use id="n48_4" href="#Pl" x="240"/><use id="n48_5" href="#Pl" x="292"/><use id="n48_6" href="#Dl" x="344"/><use id="n48_7" href="#Pl" x="396"/><use id="n48_8" href="#Ll" x="448"/><use id="n48_9" href="#Dl" x="500"/><use id="n48_10" href="#Kl" x="552"/></g>
<g id="row49" transform="translate(0,2558)"><use id="n49_1" href="#Dr" x="84"/><use id="n49_2" href="#Kr" x="136"/><use id="n49_3" href="#Dr" x="188"/><use id="n49_4" href="#Pr" x="240"/><use id="n49_5" href="#Dr" x="292"/><use id="n49_6" href="#Pr" x="344"/><use id="n49_7" href="#Pr" x="396"/><use id="n49_8" href="#Kr" x="448"/><use id="n49_9" href="#Kr" x="500"/><use id="n49_10" href="#Pr" x="552"/></g>
<g id="row50" transform="translate(0,2610)"><use id="n50_1" href="#Kl" x="84"/><use id="n50_2" href="#Pl" x="136"/><use id="n50_3" href="#Dl" x="188"/><use id="n50_4" href="#Dl" x="240"/><use id="n50_5" href="#Pl" x="292"/><use id="n50_6" href="#Pl" x="344"/><use id="n50_7" href="#Dl" x="396"/><use id="n50_8" href="#Pl" x="448"/><use id="n50_9" href="#Pl" x="500"/><use id="n50_10" href="#Pl" x="552"/></g>
<g id="row51" transform="translate(0,2662)"><use id="n51_1" href="#Pr" x="84"/><use id="n51_2" href="#Pr" x="136"/><use id="n51_3" href="#Pr" x="188"/><use id="n51_4" href="#Dr" x="240"/><use id="n51_5" href="#Pr" x="292"/><use id="n51_6" href="#Dr" x="344"/><use id="n51_7" href="#Kr" x="396"/><use id="n51_8" href="#Pr" x="448"/><use id="n51_9" href="#Pr" x="500"/><use id="n51_10" href="#Lr" x="552"/></g>
<g id="row52" transform="translate(0,2714)"><use id="n52_1" href="#Pl" x="84"/><use id="n52_2" href="#Pl" x="136"/><use id="n52_3" href="#Pl" x="188"/><use id="n52_4" href="#Dl" x="240"/><use id="n52_5" href="#Dl" x="292"/><use id="n52_6" href="#Pl" x="344"/><use id="n52_7" href="#Pl" x="396"/><use id="n52_8" href="#Pl" x="448"/><use id="n52_9" href="#Pl" x="500"/><use id="n52_10" href="#Kl" x="552"/></g>
<g id="row53" transform="translate(0,2766)"><use id="n53_1" href="#Pr" x="84"/><use id="n53_2" href="#Pr" x="136"/><use id="n53_3" href="#Lr" x="188"/><use id="n53_4" href="#Kr" x="240"/><use id="n53_5" href="#Dr" x="292"/><use id="n53_6" href="#Pr" x="344"/><use id="n53_7" href="#Pr" x="396"/><use id="n53_8" href="#Pr" x="448"/><use id="n53_9" href="#Pr" x="500"/><use id="n53_10" href="#Pr" x="552"/></g>
<g id="row54" transform="translate(0,2818)"><use id="n54_1" href="#Pl" x="84"/><use id="n54_2" href="#Ll" x="136"/><use id="n54_3" href="#Dl" x="188"/><use id="n54_4" href="#Kl" x="240"/><use id="n54_5" href="#Dl" x="292"/><use id="n54_6" href="#Pl" x="344"/><use id="n54_7" href="#Dl" x="396"/><use id="n54_8" href="#Ll" x="448"/><use id="n54_9" href="#Ll" x="500"/><use id="n54_10" href="#Pl" x="552"/></g>
<g id="row55" transform="translate(0,2870)"><use id="n55_1" href="#Pr" x="84"/><use id="n55_2" href="#Kr" x="136"/><use id="n55_3" href="#Kr" x="188"/><use id="n55_4" href="#Pr" x="240"/><use id="n55_5" href="#Pr" x="292"/><use id="n55_6" href="#Dr" x="344"/><use id="n55_7" href="#Lr" x="396"/><use id="n55_8" href="#Dr" x="448"/><use id="n55_9" href="#Kr" x="500"/><use id="n55_10" href="#Pr" x="552"/></g>
<g id="row56" transform="translate(0,2922)"><use id="n56_1" href="#Pl" x="84"/><use id="n56_2" href="#Pl" x="136"/><use id="n56_3" href="#Pl" x="188"/><use id="n56_4" href="#Pl" x="240"/><use id="n56_5" href="#Pl" x="292"/><use id="n56_6" href="#Dl" x="344"/><use id="n56_7" href="#Kl" x="396"/><use id="n56_8" href="#Kl" x="448"/><use id="n56_9" href="#Dl" x="500"/><use id="n56_10" href="#Kl" x="552"/></g>
<g id="row57" transform="translate(0,2974)"><use id="n57_1" href="#Pr" x="84"/><use id="n57_2" href="#Kr" x="136"/><use id="n57_3" href="#Lr" x="188"/><use id="n57_4" href="#Pr" x="240"/><use id="n57_5" href="#Dr" x="292"/><use id="n57_6" href="#Pr" x="344"/><use id="n57_7" href="#Dr" x="396"/><use id="n57_8" href="#Dr" x="448"/><use id="n57_9" href="#Pr" x="500"/><use id="n57_10" href="#Pr" x="552"/></g>
<g id="row58" transform="translate(0,3026)"><use id="n58_1" href="#Ll" x="84"/><use id="n58_2" href="#Dl" x="136"/><use id="n58_3" href="#Kl" x="188"/><use id="n58_4" href="#Dl" x="240"/><use id="n58_5" href="#Dl" x="292"/><use id="n58_6" href="#Dl" x="344"/><use id="n58_7" href="#Pl" x="396"/><use id="n58_8" href="#Pl" x="448"/><use id="n58_9" href="#Pl" x="500"/><use id="n58_10" href="#Pl" x="552"/></g>
<g id="row59" transform="translate(0,3078)"><use id="n59_1" href="#Kr" x="84"/><use id="n59_2" href="#Kr" x="136"/><use id="n59_3" href="#Dr" x="188"/><use id="n59_4" href="#Pr" x="240"/><use id="n59_5" href="#Pr" x="292"/><use id="n59_6" href="#Kr" x="344"/><use id="n59_7" href="#Kr" x="396"/><use id="n59_8" href="#Pr" x="448"/><use id="n59_9" href="#Pr" x="500"/><use id="n59_10" href="#Pr" x="552"/></g>
<g id="row60" transform="translate(0,3130)"><use id="n60_1" href="#Dl" x="84"/><use id="n60_2" href="#Dl" x="136"/><use id="n60_3" href="#Pl" x="188"/><use id="n60_4" href="#Pl" x="240"/><use id="n60_5" href="#Ll" x="292"/><use id="n60_6" href="#Dl" x="344"/><use id="n60_7" href="#Ll" x="396"/><use id="n60_8" href="#Pl" x="448"/><use id="n60_9" href="#Kl" x="500"/><use id="n60_10" href="#Pl" x="552"/></g>
<g id="row61" transform="translate(0,3182)"><use id="n61_1" href="#Pr" x="84"/><use id="n61_2" href="#Pr" x="136"/><use id="n61_3" href="#Pr" x="188"/><use id="n61_4" href="#Pr" x="240"/><use id="n61_5" href="#Lr" x="292"/><use id="n61_6" href="#Kr" x="344"/><use id="n61_7" href="#Pr" x="396"/><use id="n61_8" href="#Kr" x="448"/><use id="n61_9" href="#Kr" x="500"/><use id="n61_10" href="#Pr" x="552"/></g>
</g>
<text class="wm" x="318" y="1652" textLength="155" lengthAdjust="spacingAndGlyphs">BRACELETBOOK.COM</text>
</svg>
